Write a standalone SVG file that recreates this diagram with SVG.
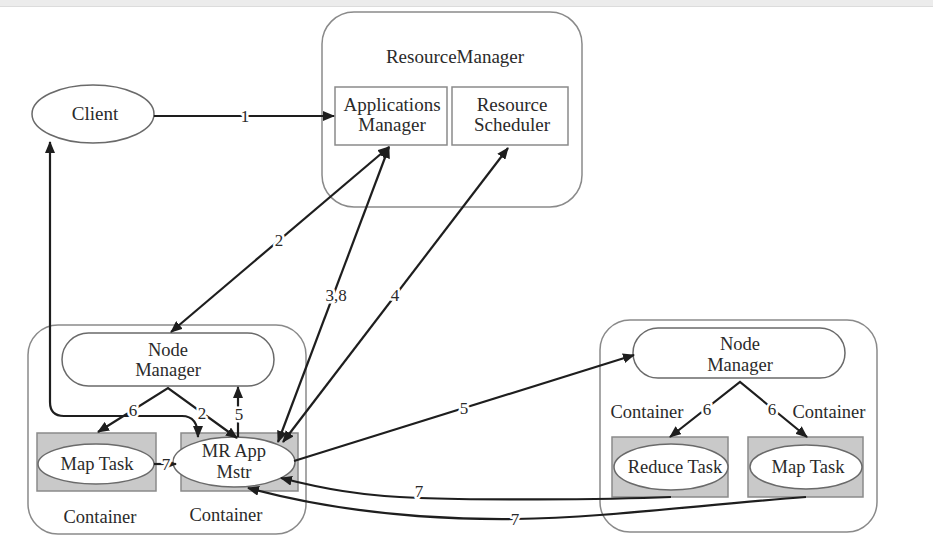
<svg xmlns="http://www.w3.org/2000/svg" width="933" height="538" viewBox="0 0 933 538">
  <defs>
    <marker id="ah" viewBox="0 0 12 10" refX="11" refY="5" markerWidth="12" markerHeight="10" markerUnits="userSpaceOnUse" orient="auto-start-reverse">
      <path d="M0,0 L12,5 L0,10 Z" fill="#1e1e1e"/>
    </marker>
    <style>
      text { font-family: "Liberation Serif", "Times New Roman", serif; fill: #2a2a2a; text-anchor: middle; }
      .t { font-size: 19px; }
      .s { font-size: 18.5px; }
      .frame { fill: #fff; stroke: #8a8a8a; stroke-width: 1.5; }
      .box { fill: #fff; stroke: #8a8a8a; stroke-width: 1.5; }
      .cont { fill: #c9c9c9; stroke: #8a8a8a; stroke-width: 1.5; }
      .node { fill: #fff; stroke: #6a6a6a; stroke-width: 1.5; }
      .e { fill: none; stroke: #1e1e1e; stroke-width: 2.2; }
      .lbl { font-size: 17px; stroke: #fff; stroke-width: 5; paint-order: stroke; stroke-linejoin: round; }
    </style>
  </defs>

  <rect width="933" height="538" fill="#fff"/>
  <!-- top strip -->
  <rect x="0" y="0" width="933" height="6" fill="#ececec"/>
  <line x1="0" y1="6.5" x2="933" y2="6.5" stroke="#dcdcdc" stroke-width="1"/>

  <!-- ResourceManager -->
  <g id="resource-manager">
    <rect class="frame" x="322" y="12" width="260" height="195" rx="32"/>
    <text class="t" x="455" y="63">ResourceManager</text>
  </g>
  <g id="applications-manager">
    <rect class="box" x="335" y="87" width="112" height="58"/>
    <text class="t" x="392" y="111">Applications</text>
    <text class="t" x="392" y="131">Manager</text>
  </g>
  <g id="resource-scheduler">
    <rect class="box" x="452" y="87" width="116" height="58"/>
    <text class="t" x="512" y="111">Resource</text>
    <text class="t" x="512" y="131">Scheduler</text>
  </g>

  <!-- Client -->
  <g id="client">
    <ellipse class="node" cx="93" cy="114" rx="61" ry="29"/>
    <text class="t" x="95" y="120">Client</text>
  </g>

  <!-- Left node -->
  <g id="left-node">
    <rect class="frame" x="28" y="325" width="278" height="209" rx="30"/>
    <rect class="node" x="62" y="333" width="212" height="53" rx="26.5"/>
    <text class="s" x="168" y="356">Node</text>
    <text class="s" x="168" y="376">Manager</text>
    <text class="s" x="100" y="523">Container</text>
    <text class="s" x="226" y="521">Container</text>
  </g>
  <g id="left-map-task">
    <rect class="cont" x="37" y="433" width="119" height="58"/>
    <ellipse class="node" cx="96" cy="464" rx="58" ry="20"/>
    <text class="s" x="97" y="470">Map Task</text>
  </g>
  <g id="mr-app-master">
    <rect class="cont" x="181" y="433" width="117" height="58"/>
    <ellipse class="node" cx="234" cy="462" rx="61" ry="25"/>
    <text class="s" x="234" y="457">MR App</text>
    <text class="s" x="234" y="478">Mstr</text>
  </g>

  <!-- Right node -->
  <g id="right-node">
    <rect class="frame" x="600" y="320" width="277" height="212" rx="30"/>
    <rect class="node" x="633" y="328" width="212" height="50" rx="25"/>
    <text class="s" x="740" y="350">Node</text>
    <text class="s" x="740" y="371">Manager</text>
    <text class="s" x="647" y="418">Container</text>
    <text class="s" x="829" y="418">Container</text>
  </g>
  <g id="reduce-task">
    <rect class="cont" x="612" y="437" width="116" height="60"/>
    <ellipse class="node" cx="671" cy="467" rx="57" ry="23"/>
    <text class="s" x="675" y="473">Reduce Task</text>
  </g>
  <g id="right-map-task">
    <rect class="cont" x="748" y="437" width="115" height="60"/>
    <ellipse class="node" cx="806" cy="467" rx="56" ry="22"/>
    <text class="s" x="808" y="473">Map Task</text>
  </g>

  <!-- Connectors -->
  <g id="connectors">
    <!-- 1: Client -> Applications Manager -->
    <line class="e" x1="154" y1="116" x2="334" y2="116" marker-end="url(#ah)"/>
    <text class="lbl" x="245" y="122">1</text>

    <!-- 2: Applications Manager <-> Node Manager -->
    <line class="e" x1="389" y1="147" x2="171" y2="332" marker-start="url(#ah)" marker-end="url(#ah)"/>
    <text class="lbl" x="279" y="246">2</text>

    <!-- 3,8: Applications Manager <-> MR App Mstr -->
    <line class="e" x1="389" y1="147" x2="278" y2="442" marker-start="url(#ah)" marker-end="url(#ah)"/>
    <text class="lbl" x="336" y="301">3,8</text>

    <!-- 4: Resource Scheduler <-> MR App Mstr -->
    <line class="e" x1="508" y1="148" x2="283" y2="442" marker-start="url(#ah)" marker-end="url(#ah)"/>
    <text class="lbl" x="395" y="301">4</text>

    <!-- Client <-> MR App Mstr -->
    <path class="e" d="M50,142 L50,402 Q50,416 64,416 L182,416 Q198,416 198,437" marker-start="url(#ah)" marker-end="url(#ah)"/>

    <!-- 6 / 2 from left Node Manager -->
    <polyline class="e" points="98,432 168,388 237,438" marker-start="url(#ah)" marker-end="url(#ah)"/>
    <text class="lbl" x="133" y="416">6</text>
    <text class="lbl" x="202" y="419">2</text>

    <!-- 5: MR App Mstr -> Node Manager -->
    <line class="e" x1="238" y1="437" x2="238" y2="387" marker-end="url(#ah)"/>
    <text class="lbl" x="239" y="420">5</text>

    <!-- 7: Map Task -> MR App Mstr -->
    <line class="e" x1="154" y1="464" x2="176" y2="464" marker-end="url(#ah)"/>
    <text class="lbl" x="166" y="470">7</text>

    <!-- 5: MR App Mstr -> right Node Manager -->
    <line class="e" x1="294" y1="461" x2="634" y2="355" marker-end="url(#ah)"/>
    <text class="lbl" x="464" y="414">5</text>

    <!-- 6 / 6 from right Node Manager -->
    <polyline class="e" points="670,437 740,382 807,437" marker-start="url(#ah)" marker-end="url(#ah)"/>
    <text class="lbl" x="707" y="415">6</text>
    <text class="lbl" x="772" y="415">6</text>

    <!-- 7: Reduce Task -> MR App Mstr -->
    <path class="e" d="M671,497 C600,500 470,500 420,498 C360,496 320,488 281,478" marker-end="url(#ah)"/>
    <text class="lbl" x="419" y="497">7</text>

    <!-- 7: right Map Task -> MR App Mstr -->
    <path class="e" d="M806,497 C700,505 600,518 515,519 C420,520 330,510 248,488" marker-end="url(#ah)"/>
    <text class="lbl" x="515" y="525">7</text>
  </g>
</svg>
